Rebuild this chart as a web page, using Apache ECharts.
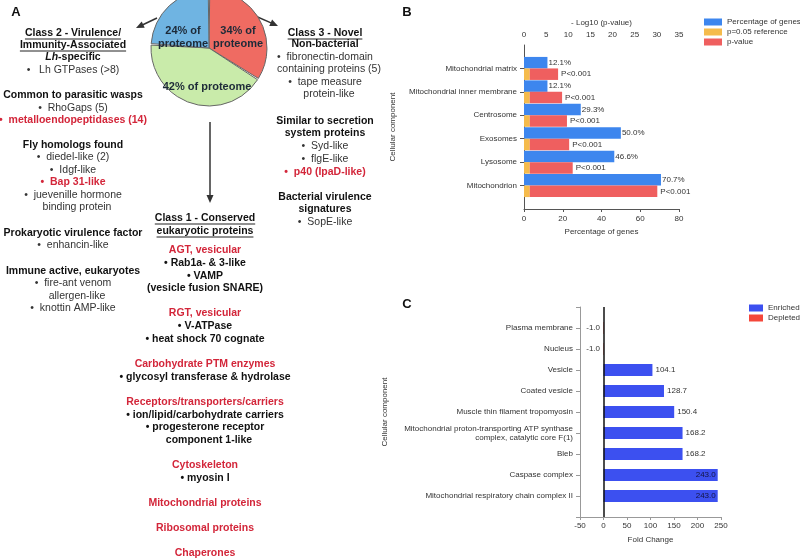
<!DOCTYPE html>
<html><head><meta charset="utf-8">
<script src="https://cdn.jsdelivr.net/npm/echarts@6/dist/echarts.min.js"></script>
<style>html,body{margin:0;padding:0;background:#fff}#c{width:800px;height:559px}</style>
</head><body><div id="c"></div>
<script>
// ---------------- DATA ----------------
// Panel A (pie)
const pieNames = ['Class 3 - Novel', 'Class 1 - Conserved', 'Class 2 - Virulence/Immunity-Associated'];
const pieShares = [34, 42, 24];

// Panel A text columns: [y, kind, text]
const leftCol = [
  [33, 'u', 'Class 2 - Virulence/'],
  [45, 'u', 'Immunity-Associated'],
  [57, 'b', '{ib|Lh}-specific'],
  [70, 'n', '•   Lh GTPases (>8)'],
  [95, 'b', 'Common to parasitic wasps'],
  [108, 'n', '•  RhoGaps (5)'],
  [120, 'r', '•  metalloendopeptidases (14)'],
  [145, 'b', 'Fly homologs found'],
  [157, 'n', '•  diedel-like (2)'],
  [170, 'n', '•  Idgf-like'],
  [182, 'r', '•  Bap 31-like'],
  [195, 'n', '•  juevenille hormone'],
  [207, 'c', 'binding protein'],
  [233, 'b', 'Prokaryotic virulence factor'],
  [245, 'n', '•  enhancin-like'],
  [271, 'b', 'Immune active, eukaryotes'],
  [283, 'n', '•  fire-ant venom'],
  [296, 'c', 'allergen-like'],
  [308, 'n', '•  knottin AMP-like']
];
const rightCol = [
  [33, 'u', 'Class 3 - Novel'],
  [44, 'b', 'Non-bacterial'],
  [57, 'n', '•  fibronectin-domain'],
  [69, 'c', 'containing proteins (5)'],
  [82, 'n', '•  tape measure'],
  [94, 'c', 'protein-like'],
  [121, 'b', 'Similar to secretion'],
  [133, 'b', 'system proteins'],
  [146, 'n', '•  Syd-like'],
  [159, 'n', '•  flgE-like'],
  [172, 'r', '•  p40 (IpaD-like)'],
  [197, 'b', 'Bacterial virulence'],
  [209, 'b', 'signatures'],
  [222, 'n', '•  SopE-like']
];
const midCol = [
  [218, 'u', 'Class 1 - Conserved'],
  [231, 'u', 'eukaryotic proteins'],
  [250, 'r', 'AGT, vesicular'],
  [263, 'b', '• Rab1a- & 3-like'],
  [276, 'b', '• VAMP'],
  [288, 'b', '(vesicle fusion SNARE)'],
  [313, 'r', 'RGT, vesicular'],
  [326, 'b', '• V-ATPase'],
  [339, 'b', '• heat shock 70 cognate'],
  [364, 'r', 'Carbohydrate PTM enzymes'],
  [377, 'b', '• glycosyl transferase & hydrolase'],
  [402, 'r', 'Receptors/transporters/carriers'],
  [415, 'b', '• ion/lipid/carbohydrate carriers'],
  [427, 'b', '• progesterone receptor'],
  [440, 'bc', 'component 1-like'],
  [465, 'r', 'Cytoskeleton'],
  [478, 'b', '• myosin I'],
  [503, 'r', 'Mitochondrial proteins'],
  [528, 'r', 'Ribosomal proteins'],
  [553, 'r', 'Chaperones']
];

// Panel B
const bCategories = ['Mitochondrial matrix', 'Mitochondrial inner membrane', 'Centrosome', 'Exosomes', 'Lysosome', 'Mitochondrion'];
const bGenePct = [12.1, 12.1, 29.3, 50.0, 46.6, 70.7];
const bLogP = [7.7, 8.6, 9.7, 10.2, 11.0, 30.1];
const bRef = [1.3, 1.3, 1.3, 1.3, 1.3, 1.3];
const bPLabels = ['P<0.001', 'P<0.001', 'P<0.001', 'P<0.001', 'P<0.001', 'P<0.001'];

// Panel C
const cCategories = ['Plasma membrane', 'Nucleus', 'Vesicle', 'Coated vesicle', 'Muscle thin filament tropomyosin',
  'Mitochondrial proton-transporting ATP synthase\ncomplex, catalytic core F(1)', 'Bleb', 'Caspase complex',
  'Mitochondrial respiratory chain complex II'];
const cFold = [-1.0, -1.0, 104.1, 128.7, 150.4, 168.2, 168.2, 243.0, 243.0];

// ---------------- BUILD ----------------
const FONT = '"Liberation Sans", Arial, Helvetica, sans-serif';
const RED = '#d3263a';
const FS = 10.5;
const cvs = document.createElement('canvas').getContext('2d');
function measure(t, bold) { cvs.font = (bold ? 'bold ' : '') + FS + 'px ' + FONT; return cvs.measureText(t).width; }

const graphics = [];
function addCol(col, cx) {
  col.forEach(([y, kind, text]) => {
    const bold = kind !== 'n' && kind !== 'c';
    const fill = kind === 'r' ? RED : (bold ? '#111' : '#333');
    const x = (kind === 'c' || kind === 'bc') ? cx + 4 : cx;
    graphics.push({
      type: 'text', x: x, y: y, silent: true,
      style: {
        text: text, fill: fill, font: (bold ? 'bold ' : '') + FS + 'px ' + FONT,
        fontSize: FS, fontWeight: bold ? 'bold' : 'normal', fontFamily: FONT,
        align: 'center', verticalAlign: 'middle',
        rich: { ib: { fontStyle: 'italic', fontWeight: 'bold', fontSize: FS, fontFamily: FONT, fill: '#111' } }
      }
    });
    if (kind === 'u') {
      const w = measure(text, true);
      graphics.push({ type: 'line', silent: true, shape: { x1: x - w / 2, y1: y + 6, x2: x + w / 2, y2: y + 6 },
        style: { stroke: '#222', lineWidth: 1 } });
    }
  });
}
addCol(leftCol, 73);
addCol(rightCol, 325);
addCol(midCol, 205);

function arrow(x1, y1, x2, y2) {
  const dx = x2 - x1, dy = y2 - y1, L = Math.hypot(dx, dy), ux = dx / L, uy = dy / L;
  const hl = 8, hw = 3.5;
  const bx = x2 - ux * hl, by = y2 - uy * hl;
  graphics.push({ type: 'line', silent: true, shape: { x1, y1, x2: bx + ux, y2: by + uy }, style: { stroke: '#333', lineWidth: 1.5 } });
  graphics.push({ type: 'polygon', silent: true, shape: { points: [[x2, y2], [bx - uy * hw, by + ux * hw], [bx + uy * hw, by - ux * hw]] }, style: { fill: '#333' } });
}
arrow(157, 18, 136, 28);
arrow(253, 15, 278, 26);
arrow(210, 122, 210, 203);

[['A', 16, 12], ['B', 407, 12], ['C', 407, 304]].forEach(([t, x, y]) => graphics.push({
  type: 'text', x, y, silent: true,
  style: { text: t, font: 'bold 13px ' + FONT, fontSize: 13, fontWeight: 'bold', fontFamily: FONT, fill: '#111', align: 'center', verticalAlign: 'middle' }
}));

const pad = a => [null, ...a, null];
const padCat = a => ['', ...a, ''];
const axText = { fontSize: 8, color: '#333', fontFamily: FONT };
const pieLabelPos = [[238, 37], [207, 87], [183, 37]];
const C_MAX = 250;

const option = {
  animation: false,
  textStyle: { fontFamily: FONT },
  graphic: { elements: graphics },
  legend: [
    { left: 704, top: 18, padding: 0, orient: 'vertical', icon: 'rect', itemWidth: 18, itemHeight: 7, itemGap: 2, selectedMode: false,
      data: ['Percentage of genes', 'p=0.05 reference', 'p-value'], textStyle: axText },
    { left: 749, top: 304, padding: 0, orient: 'vertical', icon: 'rect', itemWidth: 14, itemHeight: 7, itemGap: 2, selectedMode: false,
      data: ['Enriched', 'Depleted'], textStyle: axText }
  ],
  grid: [
    { left: 524, top: 45, width: 155, height: 164, outerBoundsMode: 'none' },
    { left: 580, top: 307, width: 141, height: 210, outerBoundsMode: 'none' }
  ],
  xAxis: [
    { gridIndex: 0, type: 'value', position: 'bottom', min: 0, max: 80, interval: 20,
      name: 'Percentage of genes', nameLocation: 'middle', nameGap: 19, nameTextStyle: axText,
      axisLine: { show: true, lineStyle: { color: '#555' } }, axisTick: { show: true, length: 3, lineStyle: { color: '#555' } },
      axisLabel: Object.assign({ margin: 6 }, axText), splitLine: { show: false } },
    { gridIndex: 0, type: 'value', position: 'top', min: 0, max: 35, interval: 5,
      name: '- Log10 (p-value)', nameLocation: 'middle', nameGap: 18, nameTextStyle: axText,
      axisLine: { show: false }, axisTick: { show: false },
      axisLabel: Object.assign({ margin: 6 }, axText), splitLine: { show: false } },
    { gridIndex: 1, type: 'value', min: -50, max: C_MAX, interval: 50,
      name: 'Fold Change', nameLocation: 'middle', nameGap: 19, nameTextStyle: axText,
      axisLine: { show: true, onZero: false, lineStyle: { color: '#999' } }, axisTick: { show: true, length: 3, lineStyle: { color: '#999' } },
      axisLabel: Object.assign({ margin: 5 }, axText), splitLine: { show: false } }
  ],
  yAxis: [
    { gridIndex: 0, type: 'category', inverse: true, boundaryGap: false, data: padCat(bCategories),
      name: 'Cellular component', nameLocation: 'middle', nameRotate: 90, nameGap: 127, nameTextStyle: axText,
      axisLine: { show: true, lineStyle: { color: '#555' } },
      axisTick: { show: true, length: 4, interval: (i) => i > 0 && i <= bCategories.length, lineStyle: { color: '#555' } },
      axisLabel: Object.assign({ margin: 7, interval: 0 }, axText) },
    { gridIndex: 1, type: 'category', inverse: true, boundaryGap: false, data: padCat(cCategories),
      name: 'Cellular component', nameLocation: 'middle', nameRotate: 90, nameGap: 191, nameTextStyle: axText,
      axisLine: { show: true, onZero: false, lineStyle: { color: '#999' } },
      axisTick: { show: true, length: 4, interval: 0, lineStyle: { color: '#999' } },
      axisLabel: Object.assign({ margin: 7, interval: 0, lineHeight: 9 }, axText) }
  ],
  series: [
    { type: 'pie', center: [209, 48], radius: 58, startAngle: 90, clockwise: true, padAngle: 1.5, silent: true,
      emphasis: { disabled: true },
      itemStyle: { borderColor: '#666', borderWidth: 1 },
      data: pieShares.map((v, i) => ({ name: pieNames[i], value: v, itemStyle: { color: ['#ef6b62', '#c9ebaa', '#6fb4e2'][i] } })),
      label: { show: true, position: 'inside', fontSize: 11, lineHeight: 13, fontWeight: 'bold', color: '#1d2a38', fontFamily: FONT,
        formatter: p => p.dataIndex === 1 ? p.value + '% of proteome' : p.value + '% of\nproteome' },
      labelLine: { show: false },
      labelLayout: p => ({ x: pieLabelPos[p.dataIndex][0], y: pieLabelPos[p.dataIndex][1], align: 'center', verticalAlign: 'middle' })
    },
    { type: 'bar', name: 'Percentage of genes', xAxisIndex: 0, yAxisIndex: 0, data: pad(bGenePct), barWidth: 11.5, barGap: '0%',
      itemStyle: { color: '#3d86ee' },
      label: Object.assign({ show: true, position: 'right', distance: 1, formatter: p => p.value.toFixed(1) + '%' }, axText) },
    { type: 'bar', name: 'p=0.05 reference', xAxisIndex: 1, yAxisIndex: 0, stack: 'p', data: pad(bRef), barWidth: 11.5, barGap: '0%',
      itemStyle: { color: '#f5bb4c' } },
    { type: 'bar', name: 'p-value', xAxisIndex: 1, yAxisIndex: 0, stack: 'p', data: pad(bLogP.map((v, i) => v - bRef[i])), barWidth: 11.5, barGap: '0%',
      itemStyle: { color: '#ef5f5f' },
      label: Object.assign({ show: true, position: 'right', distance: 3, formatter: p => bPLabels[p.dataIndex - 1] }, axText) },
    { type: 'bar', name: 'Enriched', xAxisIndex: 2, yAxisIndex: 1, stack: 'c', barWidth: 12,
      data: pad(cFold.map(v => v > 0 ? (v > 0.9 * C_MAX ? { value: v, label: { position: 'insideRight', distance: 2, color: '#141440' } } : v) : null)),
      itemStyle: { color: '#3c50f0' },
      label: Object.assign({ show: true, position: 'right', distance: 3, formatter: p => p.value.toFixed(1) }, axText),
      markLine: { silent: true, symbol: ['none', 'none'], label: { show: false }, lineStyle: { color: '#111', width: 1.5, type: 'solid' }, data: [{ xAxis: 0 }] } },
    { type: 'bar', name: 'Depleted', xAxisIndex: 2, yAxisIndex: 1, stack: 'c', barWidth: 12,
      data: pad(cFold.map(v => v < 0 ? v : null)),
      itemStyle: { color: '#f4473a' },
      label: Object.assign({ show: true, position: 'left', distance: 3, formatter: p => p.value.toFixed(1) }, axText) }
  ]
};
const chart = echarts.init(document.getElementById('c'), null, { renderer: 'canvas', width: 800, height: 559 });
chart.setOption(option);
</script>
</body></html>
